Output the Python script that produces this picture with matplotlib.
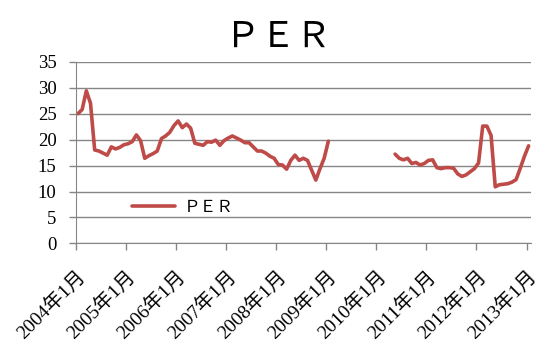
import numpy as np
import matplotlib
matplotlib.use('Agg')
import matplotlib.pyplot as plt

plt.rcParams['font.family'] = ['Liberation Serif', 'Noto Sans CJK JP']

# monthly PER, 2004-01 .. 2013-01 (nan = no data)
per_2004 = [25.0, 25.8, 29.4, 27.0, 18.0, 17.8, 17.4, 17.0, 18.6, 18.2, 18.5, 19.0]
per_2005 = [19.2, 19.6, 20.9, 19.8, 16.4, 16.9, 17.3, 17.8, 20.2, 20.7, 21.4, 22.7]
per_2006 = [23.6, 22.3, 23.0, 22.2, 19.3, 19.1, 18.9, 19.6, 19.5, 19.9, 18.9, 19.8]
per_2007 = [20.3, 20.7, 20.3, 19.9, 19.4, 19.4, 18.6, 17.8, 17.8, 17.4, 16.8, 16.4]
per_2008 = [15.2, 15.1, 14.3, 16.0, 17.0, 16.0, 16.4, 16.0, 14.1, 12.2, 14.4, 16.4]
per_2009 = [19.7] + [np.nan] * 11
per_2010 = [np.nan] * 4 + [17.2, 16.4, 16.1, 16.4, 15.4, 15.6, 15.1, 15.4]
per_2011 = [16.0, 16.1, 14.6, 14.4, 14.6, 14.6, 14.5, 13.4, 12.9, 13.2, 13.8, 14.4]
per_2012 = [15.5, 22.6, 22.6, 20.8, 10.9, 11.3, 11.4, 11.5, 11.8, 12.3, 14.5, 16.8]
per_2013 = [18.8]

per = np.array(per_2004 + per_2005 + per_2006 + per_2007 + per_2008 +
               per_2009 + per_2010 + per_2011 + per_2012 + per_2013)
years = list(range(2004, 2014))
tick_labels = [f'{y}年1月' for y in years]

months = np.arange(len(per)) + 0.5

fig = plt.figure(figsize=(5.46, 3.59), dpi=100)
ax = fig.add_axes([0.139, 0.322, 0.833, 0.506])

grid_c = '#868686'
ax.plot(months, per, color='#BE4B48', lw=2.6, solid_capstyle='round',
        solid_joinstyle='round', label='ＰＥＲ')

ax.set_xlim(0, len(per))
ax.set_ylim(0, 35)
ax.set_yticks(range(0, 36, 5))
ax.set_xticks([12 * i for i in range(len(years))])
ax.set_xticklabels(tick_labels, rotation=45, ha='right', rotation_mode='anchor')
ax.tick_params(axis='both', colors=grid_c, labelcolor='black',
               length=5, width=1)
ax.tick_params(axis='x', pad=12, labelsize=14)
ax.tick_params(axis='y', pad=9, labelsize=13.5)
for lab in ax.get_yticklabels():
    lab.set_family('Liberation Serif')
ax.grid(axis='y', color=grid_c, lw=1)
ax.set_axisbelow(True)
for s in ['top', 'right']:
    ax.spines[s].set_visible(False)
for s in ['left', 'bottom']:
    ax.spines[s].set_color(grid_c)

leg = ax.legend(loc='center left', bbox_to_anchor=(0.09, 0.2), frameon=False,
                handlelength=2.6, handletextpad=0.5,
                prop={'family': 'Noto Sans CJK JP', 'size': 12})

fig.text(0.51, 0.897, 'ＰＥＲ', ha='center', va='center', fontsize=25.5,
         family='Noto Sans CJK JP')

fig.savefig('out.png', dpi=100)
